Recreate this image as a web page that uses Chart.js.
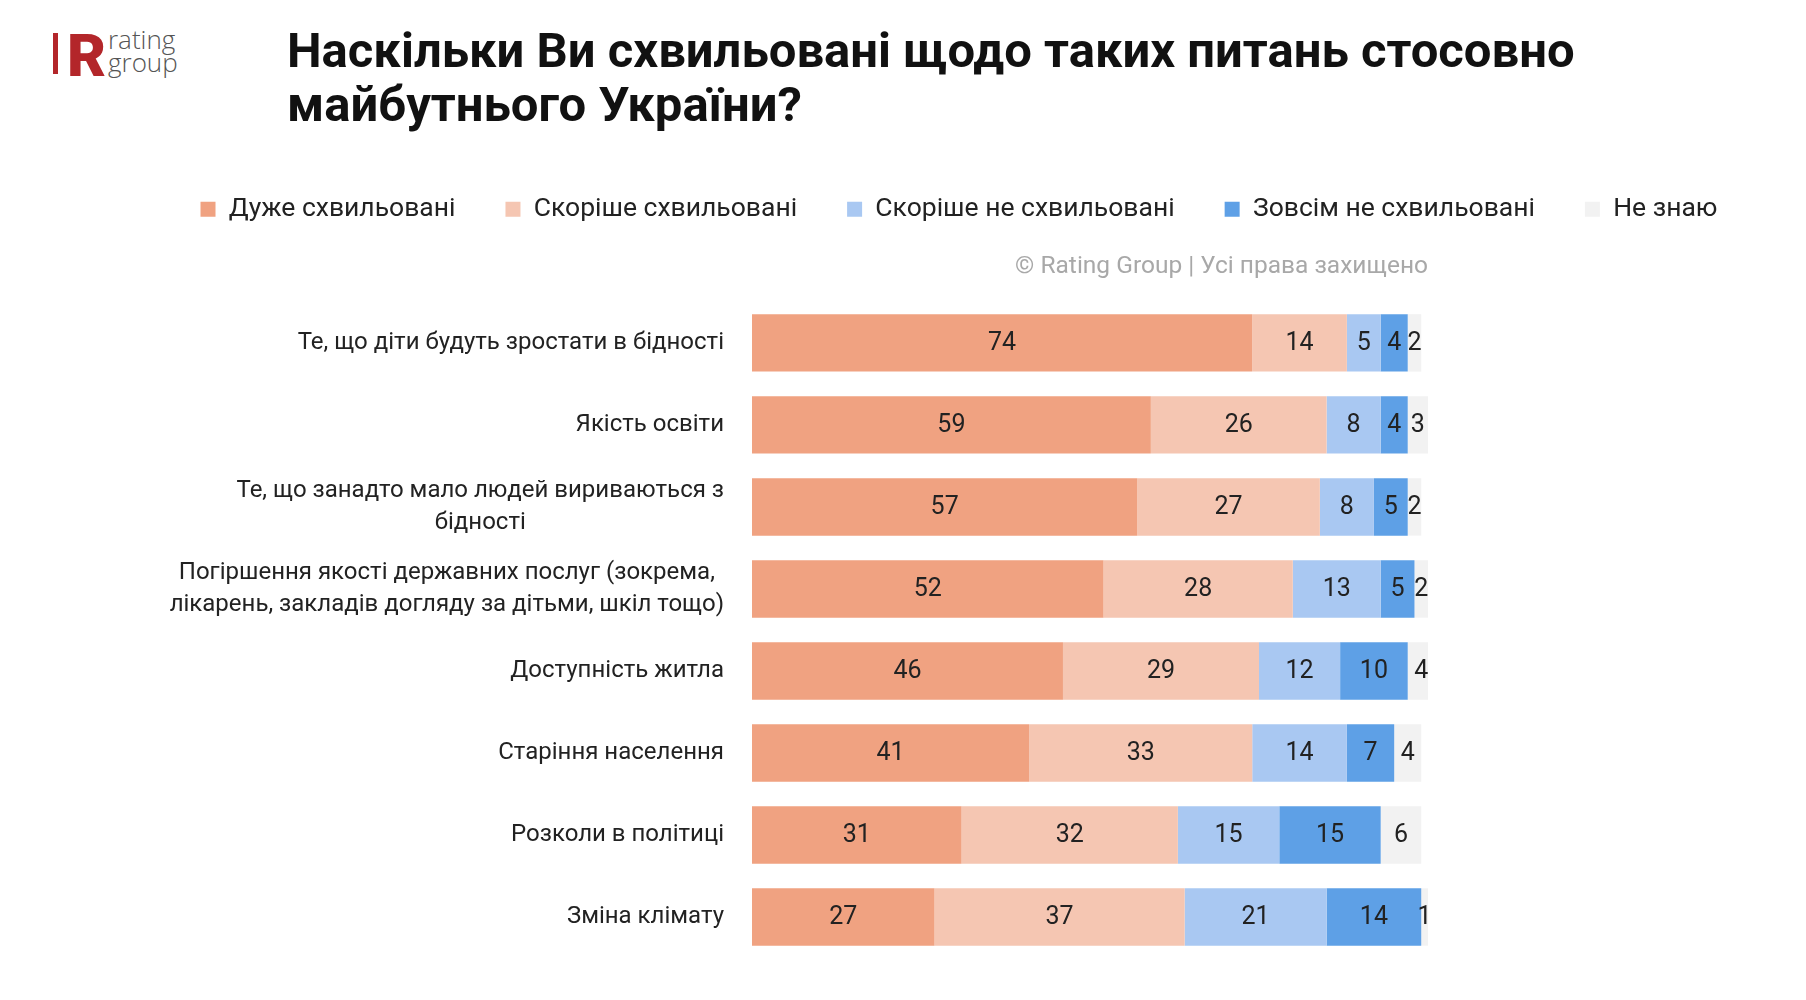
<!DOCTYPE html>
<html lang="uk">
<head>
<meta charset="utf-8">
<title>Наскільки Ви схвильовані</title>
<script src="https://cdn.jsdelivr.net/npm/chart.js@4.4.1/dist/chart.umd.min.js"></script>
<style>
  html, body { margin: 0; padding: 0; background: #fff; }
  body { width: 1806px; height: 1000px; position: relative; overflow: hidden; font-family: Roboto, "Noto Sans", sans-serif; }
  #logo { position: absolute; left: 53px; top: 31px; height: 44px; }
  #logo .bar { position: absolute; left: 0; top: 2px; width: 5px; height: 41px; background: #b3262a; }
  #logo .r { position: absolute; left: 14px; top: -11px; font: 900 60px Roboto, sans-serif; color: #b3262a; letter-spacing: -2px; }
  #logo .txt { position: absolute; left: 55px; top: -3px; font: 300 26px/23px "Open Sans", Roboto, sans-serif; color: #555; }
  #title { position: absolute; left: 287px; top: 24px; margin: 0; font: 700 49px/54px Roboto, sans-serif; color: #111; }
  #wrap { position: absolute; left: 112px; top: 146px; width: 1694px; height: 822px; }
</style>
</head>
<body>
<div id="logo"><div class="bar"></div><div class="r">R</div><div class="txt">rating<br>group</div></div>
<h1 id="title">Наскільки Ви схвильовані щодо таких питань стосовно<br>майбутнього України?</h1>
<div id="wrap"><canvas id="chart"></canvas></div>
<script>
////////////// Data //////////////
const categories = [
    "Те, що діти будуть зростати в бідності",
    "Якість освіти",
    ["Те, що занадто мало людей вириваються з", "бідності"],
    ["Погіршення якості державних послуг (зокрема,", "лікарень, закладів догляду за дітьми, шкіл тощо)"],
    "Доступність житла",
    "Старіння населення",
    "Розколи в політиці",
    "Зміна клімату"
]
const seriesNames = ["Дуже схвильовані", "Скоріше схвильовані", "Скоріше не схвильовані", "Зовсім не схвильовані", "Не знаю"]
const veryWorried = [74, 59, 57, 52, 46, 41, 31, 27]
const ratherWorried = [14, 26, 27, 28, 29, 33, 32, 37]
const ratherNotWorried = [5, 8, 8, 13, 12, 14, 15, 21]
const notWorried = [4, 4, 5, 5, 10, 7, 15, 14]
const dontKnow = [2, 3, 2, 2, 4, 4, 6, 1]
const copyrightText = "© Rating Group | Усі права захищено"

const colors = ["#f0a281", "#f5c6b2", "#a9c8f2", "#5ea0e6", "#f2f2f2"]
const seriesValues = [veryWorried, ratherWorried, ratherNotWorried, notWorried, dontKnow]

Chart.defaults.font.family = "Roboto, 'Noto Sans', sans-serif"
Chart.defaults.color = "#222"

//////// value labels in the middle of every segment ////////
const segmentLabels = {
    id: "segmentLabels",
    afterDatasetsDraw(chart) {
        const ctx = chart.ctx
        ctx.save()
        ctx.font = "25px Roboto, sans-serif"
        ctx.fillStyle = "#222"
        ctx.textAlign = "center"
        ctx.textBaseline = "middle"
        chart.data.datasets.forEach((ds, d) => {
            chart.getDatasetMeta(d).data.forEach((bar, i) => {
                const p = bar.getCenterPoint()
                ctx.fillText(ds.data[i], p.x, p.y + 1)
            })
        })
        ctx.restore()
    }
}

//////// category labels, block right aligned, lines centred ////////
const categoryLabels = {
    id: "categoryLabels",
    afterDraw(chart) {
        const ctx = chart.ctx
        const yScale = chart.scales.y
        const right = chart.chartArea.left - 28
        ctx.save()
        ctx.font = "24px Roboto, sans-serif"
        ctx.fillStyle = "#222"
        ctx.textAlign = "center"
        ctx.textBaseline = "middle"
        categories.forEach((label, i) => {
            const lines = Array.isArray(label) ? label : [label]
            const maxW = Math.max(...lines.map(l => ctx.measureText(l).width))
            const cy = yScale.getPixelForValue(i)
            lines.forEach((line, j) => {
                ctx.fillText(line, right - maxW / 2, cy + (j - (lines.length - 1) / 2) * 32)
            })
        })
        ctx.restore()
    }
}

let ctx = document.getElementById("chart").getContext("2d")
const myChart = new Chart(ctx, {
    type: "bar",
    data: {
        labels: categories,
        datasets: seriesNames.map((name, k) => ({
            label: name,
            data: seriesValues[k],
            backgroundColor: colors[k],
            borderWidth: 0,
            barPercentage: 0.7,
            categoryPercentage: 1.0
        }))
    },
    options: {
        indexAxis: "y",
        responsive: true,
        maintainAspectRatio: false,
        animation: false,
        layout: { padding: { top: 0, left: 0, right: 0, bottom: 10 } },
        scales: {
            x: { stacked: true, min: 0, max: 100, display: false },
            y: {
                stacked: true,
                grid: { display: false, drawTicks: false },
                border: { display: false },
                ticks: { display: false },
                afterFit: scale => { scale.width = 640 }
            },
            yRight: {
                type: "category",
                labels: categories,
                position: "right",
                display: true,
                grid: { display: false, drawTicks: false },
                border: { display: false },
                ticks: { display: false },
                afterFit: scale => { scale.width = 378 }
            }
        },
        plugins: {
            legend: {
                position: "top",
                align: "center",
                labels: {
                    boxWidth: 15,
                    boxHeight: 15,
                    padding: 50,
                    color: "#222",
                    font: { size: 26.5 }
                }
            },
            subtitle: {
                display: true,
                text: copyrightText,
                align: "end",
                position: "top",
                fullSize: false,
                weight: 500,
                color: "#a8a8a8",
                font: { size: 24.5, weight: "normal" },
                padding: { top: 20, bottom: 20 }
            },
            tooltip: { enabled: false }
        }
    },
    plugins: [segmentLabels, categoryLabels]
})
</script>
</body>
</html>
